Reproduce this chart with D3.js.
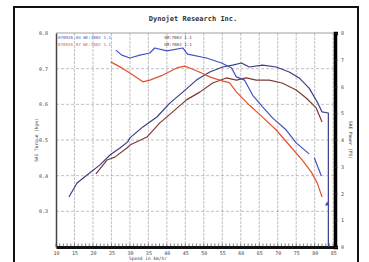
<!DOCTYPE html>
<html>
<head>
<meta charset="utf-8">
<script src="https://cdn.jsdelivr.net/npm/d3@7"></script>
<style>
  body { margin: 0; background: #fff; }
  svg { display: block; }
  .tick text { font-family: "DejaVu Sans Mono", monospace; font-size: 5px; fill: #444; }
</style>
</head>
<body>
<div id="chart"></div>
<script>
// x axis: speed ticks, left axis: torque ticks, right axis: power ticks
const speedTicks = [10, 15, 20, 25, 30, 35, 40, 45, 50, 55, 60, 65, 70, 75, 80, 85];
const torqueTicks = [0.3, 0.4, 0.5, 0.6, 0.7, 0.8];
const powerTicks = [0, 1, 2, 3, 4, 5, 6, 7, 8];

// [speed, torque] run 04 (blue), null splits the broken tail
const torque04 = [
  [26.2, 0.752], [27.8, 0.738], [30.0, 0.730], [32.7, 0.738], [35.4, 0.744],
  [36.7, 0.758], [40.0, 0.750], [44.3, 0.758], [45.6, 0.741], [50.7, 0.730],
  [54.8, 0.716], [57.5, 0.702], [58.8, 0.677], [61.0, 0.668], [63.2, 0.626],
  [65.9, 0.593], [68.6, 0.562], [72.3, 0.528], [75.0, 0.492], [78.5, 0.461],
  [79.2, null], [79.9, 0.450], [81.8, 0.399]
];
// [speed, torque] run 07 (red)
const torque07 = [
  [24.8, 0.719], [27.3, 0.705], [30.0, 0.688], [33.5, 0.663], [35.4, 0.668],
  [38.9, 0.682], [42.7, 0.702], [44.8, 0.707], [46.2, 0.702], [49.4, 0.688],
  [51.6, 0.677], [54.3, 0.668], [57.0, 0.660], [58.8, 0.635], [62.3, 0.598],
  [65.9, 0.564], [69.6, 0.528], [73.1, 0.486], [76.6, 0.444], [79.1, 0.410],
  [80.7, 0.379], [82.0, 0.340]
];
// [speed, power] run 04 (navy)
const power04 = [
  [13.5, 1.87], [15.7, 2.39], [18.4, 2.69], [21.9, 3.07], [24.6, 3.44],
  [27.3, 3.70], [29.4, 3.93], [30.0, 4.08], [33.5, 4.49], [37.3, 4.86],
  [40.8, 5.38], [44.3, 5.79], [48.0, 6.24], [51.6, 6.54], [55.1, 6.73],
  [57.8, 6.80], [60.2, 6.88], [62.3, 6.73], [65.9, 6.80], [69.6, 6.73],
  [73.1, 6.54], [75.8, 6.32], [78.5, 5.94], [80.7, 5.42], [82.0, 5.05],
  [83.7, 5.01], [83.7, 0]
];
// [speed, power] run 07 (brown)
const power07 = [
  [20.8, 2.73], [23.8, 3.25], [25.9, 3.36], [29.2, 3.70], [30.0, 3.81],
  [34.6, 4.11], [38.1, 4.64], [41.6, 5.05], [45.3, 5.50], [48.9, 5.79],
  [52.4, 6.13], [56.1, 6.32], [58.8, 6.24], [61.5, 6.32], [64.2, 6.24],
  [67.7, 6.24], [71.2, 6.13], [75.0, 5.87], [77.7, 5.57], [80.4, 5.20],
  [82.0, 4.67]
];

const W = 369, H = 262;
const plot = { left: 56, right: 335, top: 33, bottom: 247 };

const svg = d3.select("#chart").append("svg")
  .attr("width", W).attr("height", H);

// outer frame
svg.append("path")
  .attr("d", `M14,${H} V7 H358 V${H}`)
  .attr("fill", "none").attr("stroke", "#111").attr("stroke-width", 2);

svg.append("text")
  .attr("x", 193).attr("y", 21)
  .attr("text-anchor", "middle")
  .style("font-family", "DejaVu Sans Mono, monospace")
  .style("font-size", "7px").style("font-weight", "bold").style("fill", "#333")
  .text("Dynojet Research Inc.");

const x = d3.scaleLinear().domain([10, 85.5]).range([plot.left, plot.right]);
const yT = d3.scaleLinear().domain([0.2, 0.8]).range([plot.bottom, plot.top]);
const yP = d3.scaleLinear().domain([0, 8]).range([plot.bottom, plot.top]);

// grid
svg.append("g").selectAll("line").data(speedTicks.slice(1)).enter().append("line")
  .attr("x1", d => x(d)).attr("x2", d => x(d))
  .attr("y1", plot.top).attr("y2", plot.bottom)
  .attr("stroke", "#999").attr("stroke-width", 0.6).attr("stroke-dasharray", "3,1");
svg.append("g").selectAll("line").data(torqueTicks.slice(0, -1)).enter().append("line")
  .attr("x1", plot.left).attr("x2", plot.right)
  .attr("y1", d => yT(d)).attr("y2", d => yT(d))
  .attr("stroke", "#999").attr("stroke-width", 0.6).attr("stroke-dasharray", "3,2");
svg.append("line")
  .attr("x1", plot.left).attr("x2", plot.right)
  .attr("y1", plot.top).attr("y2", plot.top)
  .attr("stroke", "#888").attr("stroke-width", 0.8);

// axes
const xAxis = d3.axisBottom(x).tickValues(speedTicks).tickSize(0).tickPadding(4)
  .tickFormat(d3.format("d"));
const gx = svg.append("g").attr("transform", `translate(0,${plot.bottom})`).call(xAxis);
gx.select(".domain").attr("stroke", "#111").attr("stroke-width", 3);

// minor ticks along the bottom
svg.append("g").selectAll("line").data(d3.range(10, 85.5, 1)).enter().append("line")
  .attr("x1", d => x(d)).attr("x2", d => x(d))
  .attr("y1", plot.bottom - 3.5).attr("y2", plot.bottom)
  .attr("stroke", "#333").attr("stroke-width", 0.6);

const gl = svg.append("g").attr("transform", `translate(${plot.left},0)`)
  .call(d3.axisLeft(yT).tickValues(torqueTicks).tickSize(0).tickPadding(8).tickFormat(d3.format(".1f")));
gl.select(".domain").attr("stroke", "#444").attr("stroke-width", 1.5);

const gr = svg.append("g").attr("transform", `translate(${plot.right},0)`)
  .call(d3.axisRight(yP).tickValues(powerTicks).tickSize(3).tickPadding(3).tickFormat(d3.format("d")));
gr.select(".domain").attr("stroke", "#000").attr("stroke-width", 3.5);
gr.selectAll(".tick line").attr("stroke", "#444").attr("stroke-width", 0.6);

// axis titles
const titleStyle = s => s.style("font-family", "DejaVu Sans Mono, monospace")
  .style("font-size", "4.5px").style("fill", "#444");
svg.append("text").attr("transform", "translate(38,140) rotate(-90)")
  .attr("text-anchor", "middle").call(titleStyle).text("SAE Torque (kgm)");
svg.append("text").attr("transform", "translate(349,140) rotate(90)")
  .attr("text-anchor", "middle").call(titleStyle).text("SAE Power (PS)");
svg.append("text").attr("x", 148).attr("y", 260)
  .attr("text-anchor", "middle").call(titleStyle).text("Speed in km/hr");

// legend
const legend = [
  { text: "070926 04 WE:7002 1.1", x: 58, y: 39, color: "#4455bb" },
  { text: "070926 07 WE:7002 1.1", x: 58, y: 46, color: "#e05a35" },
  { text: "SM:7002 1.1", x: 164, y: 39, color: "#444" },
  { text: "SM:7002 1.1", x: 164, y: 46, color: "#444" }
];
svg.append("g").selectAll("text").data(legend).enter().append("text")
  .attr("x", d => d.x).attr("y", d => d.y)
  .style("font-family", "DejaVu Sans Mono, monospace").style("font-size", "4.2px")
  .style("fill", d => d.color).text(d => d.text);

// curves
const lineT = d3.line().defined(d => d[1] !== null).x(d => x(d[0])).y(d => yT(d[1]));
const lineP = d3.line().x(d => x(d[0])).y(d => yP(d[1]));
const series = [
  { data: power07, gen: lineP, color: "#7e3b36" },
  { data: power04, gen: lineP, color: "#3a3d86" },
  { data: torque07, gen: lineT, color: "#e2522f" },
  { data: torque04, gen: lineT, color: "#3f52c4" }
];
svg.append("g").selectAll("path").data(series).enter().append("path")
  .attr("d", d => d.gen(d.data))
  .attr("fill", "none")
  .attr("stroke", d => d.color)
  .attr("stroke-width", 1.2)
  .attr("stroke-linejoin", "round");

// small marker on the drop line
svg.append("path")
  .attr("d", d3.symbol(d3.symbolTriangle, 10)())
  .attr("transform", `translate(${x(83.4)},${yP(1.6)})`)
  .attr("fill", "#3f52c4");
</script>
</body>
</html>
